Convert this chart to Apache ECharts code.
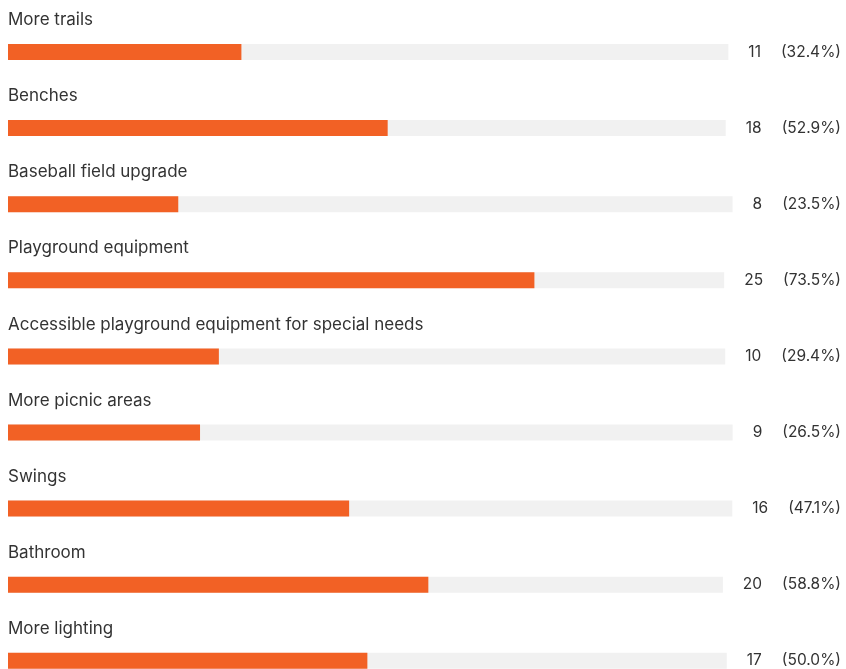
<!DOCTYPE html>
<html>
<head>
<meta charset="utf-8">
<script src="https://cdn.jsdelivr.net/npm/echarts@6/dist/echarts.min.js"></script>
<style>
html,body{margin:0;padding:0;background:#fff;}
#chart{width:846px;height:669px;}
</style>
</head>
<body>
<div id="chart"></div>
<script>
const categories = [
  'More trails',
  'Benches',
  'Baseball field upgrade',
  'Playground equipment',
  'Accessible playground equipment for special needs',
  'More picnic areas',
  'Swings',
  'Bathroom',
  'More lighting'
];
const counts = [11, 18, 8, 25, 10, 9, 16, 20, 17];
const percents = [32.4, 52.9, 23.5, 73.5, 29.4, 26.5, 47.1, 58.8, 50.0];

const FONT = 'Inter, "Noto Sans", sans-serif';
const FS_CAT = 17;
const FS_VAL = 15.5;
const TEXT = '#333333';
const ORANGE = '#f26125';
const TRACK = '#f1f1f1';

const W = 846;
const textRight = 841;
const numGap = 20;
const trackGap = 20;
const rowTop0 = 44;
const rowStep = 76.1;
const barH = 16;

const ctx = document.createElement('canvas').getContext('2d');
ctx.font = FS_VAL + 'px ' + FONT;
function tw(s) { return ctx.measureText(s).width; }

const grids = [], xAxes = [], yAxes = [], series = [];
categories.forEach((cat, i) => {
  const numStr = String(counts[i]);
  const pctStr = '(' + percents[i].toFixed(1) + '%)';
  const labelW = tw(numStr) + numGap + tw(pctStr);
  const top = rowTop0 + i * rowStep;
  grids.push({ left: 8, right: (W - textRight) + labelW + trackGap, top: top, height: barH });
  xAxes.push({ type: 'value', gridIndex: i, min: 0, max: 100, show: false });
  yAxes.push({
    type: 'category', gridIndex: i, data: [cat], position: 'left',
    name: cat, nameLocation: 'end', nameGap: 24,
    nameTextStyle: { align: 'left', verticalAlign: 'middle', color: TEXT, fontSize: FS_CAT, fontFamily: FONT, padding: 0 },
    axisLine: { show: false }, axisTick: { show: false }, axisLabel: { show: false }, splitLine: { show: false }
  });
  yAxes.push({
    type: 'category', gridIndex: i, data: [cat], position: 'right',
    axisLine: { show: false }, axisTick: { show: false }, splitLine: { show: false },
    axisLabel: {
      margin: trackGap,
      formatter: function () { return '{n|' + numStr + '}{p|' + pctStr + '}'; },
      rich: {
        n: { color: TEXT, fontSize: FS_VAL, fontFamily: FONT },
        p: { color: TEXT, fontSize: FS_VAL, fontFamily: FONT, padding: [0, 0, 0, numGap] }
      }
    }
  });
  series.push({
    type: 'bar', xAxisIndex: i, yAxisIndex: 2 * i,
    data: [percents[i]], barWidth: barH,
    itemStyle: { color: ORANGE },
    showBackground: true, backgroundStyle: { color: TRACK },
    silent: true
  });
});

const chart = echarts.init(document.getElementById('chart'), null, { renderer: 'canvas' });
chart.setOption({
  animation: false,
  backgroundColor: '#ffffff',
  textStyle: { fontFamily: FONT },
  grid: grids,
  xAxis: xAxes,
  yAxis: yAxes,
  series: series
});
</script>
</body>
</html>
